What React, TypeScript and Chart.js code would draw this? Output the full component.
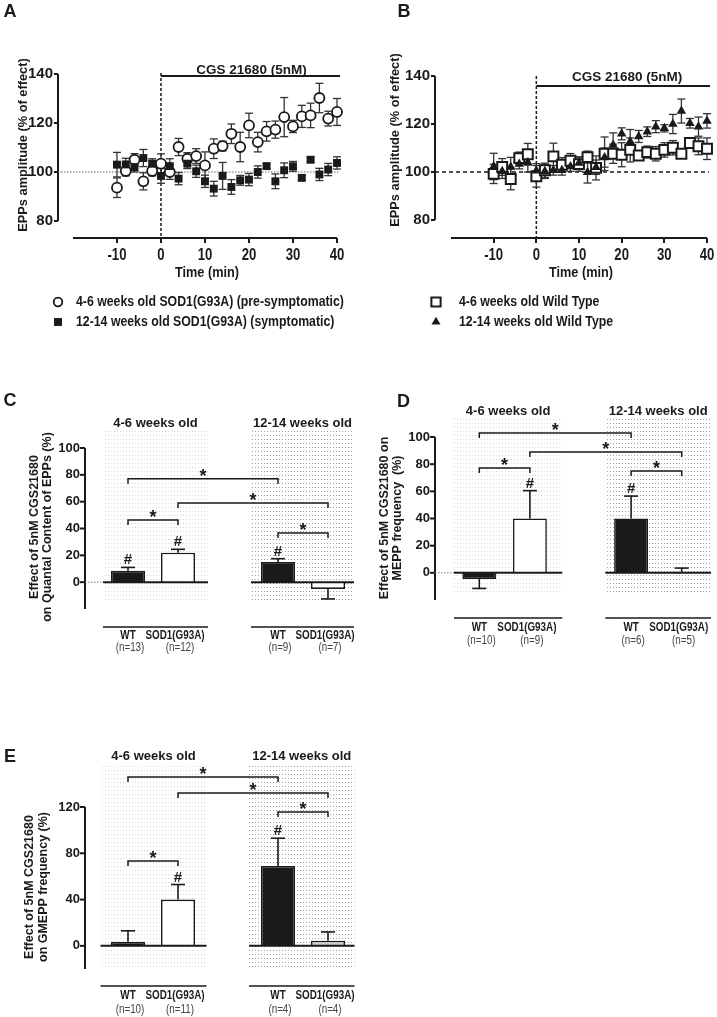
import React, { useEffect, useRef } from 'react';
import { Chart, registerables } from 'chart.js';

Chart.register(...registerables);

const SANS = "'Liberation Sans', Arial, Helvetica, sans-serif";
const INK = '#1a1a1a';
const CONDENSE = 0.82;

// ---------------- Panels A & B : time course ----------------
const timeMin = [-10, -8, -6, -4, -2, 0, 2, 4, 6, 8, 10, 12, 14, 16, 18, 20, 22, 24, 26, 28, 30, 32, 34, 36, 38, 40];
const timeTicks = [-10, 0, 10, 20, 30, 40];
const amplitudeTicks = [80, 100, 120, 140];

const sodPreSymptomatic = [93.6, 100.4, 105.0, 96.2, 100.4, 103.4, 100.0, 110.2, 105.4, 106.5, 102.7, 109.5, 110.6, 115.6, 110.2, 119.0, 112.2, 116.6, 117.3, 122.4, 118.6, 122.7, 123.1, 130.2, 121.8, 124.5];
const sodPreSymptomaticErr = [4, 2, 2.5, 3.5, 2, 4, 3, 3.5, 2.5, 3, 5.5, 4, 2, 4, 6, 5, 4, 4, 3.5, 8, 2.5, 4.5, 5, 6, 3, 5.5];
const sodSymptomatic = [103.0, 103.1, 102.0, 105.7, 103.4, 98.4, 102.4, 97.3, 103.4, 100.3, 96.2, 93.2, 98.4, 93.9, 96.6, 96.9, 100.0, 102.4, 96.2, 100.7, 102.3, 97.6, 105.0, 99.0, 101.0, 103.7];
const sodSymptomaticErr = [5, 2.5, 2, 3.5, 2, 3, 3, 2.5, 2, 2.5, 2.5, 3, 5.5, 3, 2, 2.5, 2.5, 1, 3, 3, 2, 1, 1, 2.5, 2.5, 2.5];

const wtYoung = [99.2, 102.1, 97.1, 105.8, 107.4, 98.2, 100.7, 106.5, 103.0, 104.7, 103.3, 106.2, 101.7, 107.6, 107.6, 107.2, 109.2, 106.9, 108.3, 107.6, 109.2, 110.1, 107.6, 112.1, 110.7, 109.7];
const wtYoungErr = [4, 3.5, 4.5, 2.5, 4.5, 4.5, 3, 5.5, 3, 3, 3, 2.5, 5, 7, 4, 5, 5, 2, 2.5, 3, 3, 3, 1.5, 2, 3.5, 4.5];
const wtOld = [102.3, 100.3, 102.1, 103.3, 104.0, 100.5, 100.3, 100.7, 100.7, 102.3, 103.7, 99.9, 102.0, 106.0, 111.3, 115.9, 112.7, 114.8, 116.8, 118.9, 118.2, 120.0, 125.4, 120.3, 118.9, 121.3];
const wtOldErr = [5.5, 3, 4, 2, 4, 3, 3, 2, 2, 2, 2.5, 4.5, 3, 4, 5, 2.5, 5, 2.5, 2, 2.5, 1.5, 4, 5, 2, 4, 3];

const drugLabel = 'CGS 21680 (5nM)';
const amplitudeTitle = 'EPPs amplitude (% of effect)';
const timeTitle = 'Time (min)';

// ---------------- Panels C, D, E : bar charts ----------------
const barCategories = ['WT', 'SOD1(G93A)', '', 'WT', 'SOD1(G93A)'];
const ageGroups = ['4-6 weeks old', '12-14 weeks old'];

const quantalMean = [8.5, 22, null, 15, -5];
const quantalSem = [2.5, 2.5, null, 2.5, 7.5];
const quantalN = ['(n=13)', '(n=12)', '', '(n=9)', '(n=7)'];
const quantalTicks = [0, 20, 40, 60, 80, 100];
const quantalHash = [0, 1, 3];
const quantalStars = [[0, 3, 77], [1, 4, 59], [0, 1, 46.3], [3, 4, 36.6]];

const meppMean = [-4.5, 40, null, 40, 0.5];
const meppSem = [7, 20.5, null, 16.5, 3];
const meppN = ['(n=10)', '(n=9)', '', '(n=6)', '(n=5)'];
const meppTicks = [0, 20, 40, 60, 80, 100];
const meppHash = [1, 3];
const meppStars = [[0, 3, 103], [1, 4, 89], [0, 1, 77.2], [3, 4, 75]];

const gmeppMean = [3.5, 40, null, 69, 4.5];
const gmeppSem = [9.5, 13, null, 24, 7.5];
const gmeppN = ['(n=10)', '(n=11)', '', '(n=4)', '(n=4)'];
const gmeppTicks = [0, 40, 80, 120];
const gmeppHash = [1, 3];
const gmeppStars = [[0, 3, 146], [1, 4, 132], [0, 1, 73.4], [3, 4, 115.7]];

// ---------------- helpers ----------------
function text(ctx: CanvasRenderingContext2D, s: string, x: number, y: number, font: string, opts: any = {}) {
  ctx.save();
  ctx.font = font;
  ctx.fillStyle = opts.color || INK;
  ctx.textAlign = opts.align || 'center';
  ctx.textBaseline = opts.baseline || 'middle';
  ctx.translate(x, y);
  if (opts.rot) ctx.rotate(opts.rot);
  if (opts.sx) ctx.scale(opts.sx, 1);
  ctx.fillText(s, 0, 0);
  ctx.restore();
}

function line(ctx: CanvasRenderingContext2D, pts: number[][], width = 1.5, color = INK, dash: number[] = []) {
  ctx.save();
  ctx.strokeStyle = color;
  ctx.lineWidth = width;
  ctx.setLineDash(dash);
  ctx.beginPath();
  pts.forEach((p, i) => (i === 0 ? ctx.moveTo(p[0], p[1]) : ctx.lineTo(p[0], p[1])));
  ctx.stroke();
  ctx.restore();
}

function marker(ctx: CanvasRenderingContext2D, style: string, x: number, y: number, r: number, fill: string, bw: number) {
  ctx.save();
  ctx.beginPath();
  if (style === 'circle') ctx.arc(x, y, r, 0, Math.PI * 2);
  else if (style === 'rect') {
    const s = r / Math.SQRT2;
    ctx.rect(x - s, y - s, 2 * s, 2 * s);
  } else {
    ctx.moveTo(x, y - r);
    ctx.lineTo(x + r * Math.sin((2 * Math.PI) / 3), y - r * Math.cos((2 * Math.PI) / 3));
    ctx.lineTo(x + r * Math.sin((4 * Math.PI) / 3), y - r * Math.cos((4 * Math.PI) / 3));
    ctx.closePath();
  }
  ctx.fillStyle = fill;
  ctx.fill();
  if (bw > 0) {
    ctx.lineWidth = bw;
    ctx.strokeStyle = INK;
    ctx.stroke();
  }
  ctx.restore();
}

function stipplePattern(ctx: CanvasRenderingContext2D, color: string) {
  const p = document.createElement('canvas');
  p.width = 3;
  p.height = 4;
  const g = p.getContext('2d')!;
  g.fillStyle = color;
  g.fillRect(0, 0, 1, 1);
  return ctx.createPattern(p, 'repeat')!;
}

// ---------------- time-course panels ----------------
function timeConfig(c: any) {
  const decor = {
    id: 'timeDecor',
    beforeDatasetsDraw(chart: any) {
      const ctx = chart.ctx;
      const x = chart.scales.x;
      const y = chart.scales.y;
      const area = chart.chartArea;
      // axes
      line(ctx, [[area.left, y.getPixelForValue(140)], [area.left, y.getPixelForValue(80)]], 2);
      line(ctx, [[x.getPixelForValue(-20), area.bottom], [x.getPixelForValue(40), area.bottom]], 2);
      // 100 % reference
      const y100 = y.getPixelForValue(100);
      if (c.refDashed) line(ctx, [[area.left, y100], [x.getPixelForValue(40) + 2, y100]], 1.5, INK, [4, 3]);
      else line(ctx, [[area.left, y100], [x.getPixelForValue(40) + 2, y100]], 1, '#666', [1.5, 1.5]);
      // drug application
      const x0 = x.getPixelForValue(0);
      line(ctx, [[x0, c.vTop], [x0, area.bottom]], 1.5, INK, [3, 2]);
      const xEnd = x.getPixelForValue(40) + 3;
      line(ctx, [[x0, c.drugY], [xEnd, c.drugY]], 2);
      text(ctx, drugLabel, (x0 + xEnd) / 2 + c.drugDx, c.drugLabelY, `bold 13.5px ${SANS}`);
      // error bars
      chart.data.datasets.forEach((ds: any, di: number) => {
        const meta = chart.getDatasetMeta(di);
        meta.data.forEach((pt: any, i: number) => {
          const v = ds.data[i].y;
          const e = ds.errors[i];
          const yt = y.getPixelForValue(v + e);
          const yb = y.getPixelForValue(v - e);
          line(ctx, [[pt.x, yt], [pt.x, yb]], 1.3, '#333');
          line(ctx, [[pt.x - 4, yt], [pt.x + 4, yt]], 1.3, '#333');
          line(ctx, [[pt.x - 4, yb], [pt.x + 4, yb]], 1.3, '#333');
        });
      });
    },
    afterDraw(chart: any) {
      const ctx = chart.ctx;
      const x = chart.scales.x;
      const area = chart.chartArea;
      text(ctx, c.letter, c.letterX, c.letterY, `bold 18px ${SANS}`);
      text(ctx, amplitudeTitle, c.yTitleX, c.yTitleY, `bold 12.8px ${SANS}`, { rot: -Math.PI / 2 });
      x.ticks.forEach((t: any) => {
        text(ctx, String(t.value), x.getPixelForValue(t.value), area.bottom + 18, `bold 16px ${SANS}`, { sx: CONDENSE });
      });
      const cx = (x.getPixelForValue(-20) + x.getPixelForValue(40)) / 2 + 2;
      text(ctx, timeTitle, cx, area.bottom + 35, `bold 15.5px ${SANS}`, { sx: CONDENSE });
      c.legendOrder.forEach((di: number, row: number) => {
        const ds = chart.data.datasets[di];
        const ly = c.legendY[row];
        marker(ctx, ds.pointStyle, c.legendMarkerX, ly, ds.legendRadius, ds.backgroundColor, ds.borderWidth);
        text(ctx, ds.label, c.legendTextX, ly, `bold 15px ${SANS}`, { align: 'left', sx: CONDENSE });
      });
    },
  };
  return {
    type: 'scatter',
    data: { datasets: c.datasets },
    options: {
      animation: false,
      responsive: false,
      layout: { padding: { left: 0, top: c.padTop, right: c.padRight, bottom: c.padBottom } },
      plugins: { legend: { display: false }, tooltip: { enabled: false } },
      scales: {
        x: {
          type: 'linear',
          min: c.xMin,
          max: 40,
          grid: { display: true, drawOnChartArea: false, drawTicks: true, tickLength: 5, lineWidth: 2, color: INK },
          border: { display: false },
          ticks: { display: false },
          afterBuildTicks: (s: any) => {
            s.ticks = timeTicks.map((v) => ({ value: v }));
          },
          afterFit: (s: any) => {
            s.height = c.xAxisHeight;
          },
        },
        y: {
          min: c.yMin,
          max: 140,
          grid: { display: true, drawOnChartArea: false, drawTicks: true, tickLength: 4, lineWidth: 2, color: INK },
          border: { display: false },
          ticks: { font: { family: SANS, weight: 'bold', size: 15 }, color: INK, padding: 1 },
          afterBuildTicks: (s: any) => {
            s.ticks = amplitudeTicks.map((v) => ({ value: v }));
          },
          afterFit: (s: any) => {
            s.width = c.yAxisWidth;
          },
        },
      },
    },
    plugins: [decor],
  };
}

function series(label: string, ys: number[], errs: number[], style: string, fill: string, radius: number, bw: number, legendRadius: number) {
  return {
    label,
    data: timeMin.map((t, i) => ({ x: t, y: ys[i] })),
    errors: errs,
    pointStyle: style,
    pointRadius: radius,
    pointBorderWidth: bw,
    borderWidth: bw,
    backgroundColor: fill,
    borderColor: INK,
    pointBackgroundColor: fill,
    pointBorderColor: INK,
    legendRadius,
    showLine: false,
    clip: false,
  };
}

const panelA = () =>
  timeConfig({
    letter: 'A', letterX: 10, letterY: 12,
    padTop: 74, padRight: 21, padBottom: 54, xAxisHeight: 43, yAxisWidth: 58,
    xMin: -23.4, yMin: 73.06,
    refDashed: false, vTop: 73, drugY: 76, drugLabelY: 70, drugDx: 1,
    yTitleX: 23, yTitleY: 145,
    legendOrder: [1, 0], legendY: [302, 322], legendMarkerX: 58, legendTextX: 76,
    datasets: [
      series('12-14 weeks old SOD1(G93A) (symptomatic)', sodSymptomatic, sodSymptomaticErr, 'rect', INK, 5.6, 0, 5.6),
      series('4-6 weeks old SOD1(G93A) (pre-symptomatic)', sodPreSymptomatic, sodPreSymptomaticErr, 'circle', '#ffffff', 5, 1.8, 4.3),
    ],
  });

const panelB = () =>
  timeConfig({
    letter: 'B', letterX: 46, letterY: 12,
    padTop: 76, padRight: 10, padBottom: 54, xAxisHeight: 43, yAxisWidth: 77,
    xMin: -23.75, yMin: 72.5,
    refDashed: true, vTop: 76, drugY: 86, drugLabelY: 77, drugDx: 4,
    yTitleX: 37, yTitleY: 140,
    legendOrder: [1, 0], legendY: [302, 322], legendMarkerX: 78, legendTextX: 101,
    datasets: [
      series('12-14 weeks old Wild Type', wtOld, wtOldErr, 'triangle', INK, 5.5, 0, 5.2),
      series('4-6 weeks old Wild Type', wtYoung, wtYoungErr, 'rect', '#ffffff', 7, 2, 6.5),
    ],
  });

// ---------------- bar panels ----------------
function barConfig(c: any) {
  const decor = {
    id: 'barDecor',
    beforeDatasetsDraw(chart: any) {
      const ctx = chart.ctx;
      const x = chart.scales.x;
      const c0 = x.getPixelForTick(0);
      const cw = x.getPixelForTick(1) - c0;
      const colors = ['#d6d6d6', '#a4a4a4'];
      c.groupSpans.forEach((s: number[], gi: number) => {
        const l = c0 + s[0] * cw;
        const r = c0 + s[1] * cw;
        ctx.save();
        ctx.fillStyle = stipplePattern(ctx, colors[gi]);
        ctx.fillRect(l, c.stipple[0], r - l, c.stipple[1] - c.stipple[0]);
        ctx.restore();
      });
    },
    afterDatasetsDraw(chart: any) {
      const ctx = chart.ctx;
      const x = chart.scales.x;
      const y = chart.scales.y;
      const c0 = x.getPixelForTick(0);
      const cw = x.getPixelForTick(1) - c0;
      const y0 = y.getPixelForValue(0);
      const spans = c.groupSpans.map((s: number[]) => [c0 + s[0] * cw, c0 + s[1] * cw]);
      // y axis
      const ax = c.axisX;
      line(ctx, [[ax, y.getPixelForValue(c.yMax)], [ax, y.getPixelForValue(c.yMin)]], 2);
      c.yTicks.forEach((v: number) => {
        const py = y.getPixelForValue(v);
        line(ctx, [[ax - 5, py], [ax, py]], 2);
      });
      if (c.dottedZero) line(ctx, [[ax, y0], [spans[0][0], y0]], 1, '#777', [1.5, 1.5]);
      spans.forEach((s: number[]) => line(ctx, [[s[0], y0], [s[1], y0]], 2));
      // error bars
      c.means.forEach((m: number | null, i: number) => {
        if (m === null) return;
        const cx = x.getPixelForTick(i);
        const dir = m < 0 ? -1 : 1;
        const ys = y.getPixelForValue(m);
        const ye = y.getPixelForValue(m + dir * c.sems[i]);
        line(ctx, [[cx, ys], [cx, ye]], 1.6);
        line(ctx, [[cx - 7, ye], [cx + 7, ye]], 1.6);
      });
      // # marks
      c.hashes.forEach((i: number) => {
        const cx = x.getPixelForTick(i);
        const ye = y.getPixelForValue(c.means[i] + c.sems[i]);
        text(ctx, '#', cx, ye - 3, `bold 15px ${SANS}`, { baseline: 'alphabetic' });
      });
      // significance brackets
      c.stars.forEach((s: number[]) => {
        const xa = x.getPixelForTick(s[0]);
        const xb = x.getPixelForTick(s[1]);
        const ly = y.getPixelForValue(s[2]);
        line(ctx, [[xa, ly + 5], [xa, ly], [xb, ly], [xb, ly + 5]], 1.5);
        text(ctx, '*', (xa + xb) / 2, ly + 3, `bold 18px ${SANS}`, { baseline: 'alphabetic' });
      });
      // group headers, separators, category labels and n
      spans.forEach((s: number[], gi: number) => {
        text(ctx, ageGroups[gi], (s[0] + s[1]) / 2, c.headerY, `bold 13px ${SANS}`);
        line(ctx, [[s[0], c.sepY], [s[1], c.sepY]], 1.5);
      });
      barCategories.forEach((lab: string, i: number) => {
        if (!lab) return;
        const dx = i % 3 === 0 ? 0 : -3;
        text(ctx, lab, x.getPixelForTick(i) + dx, c.labelY, `bold 12px ${SANS}`, { sx: CONDENSE });
      });
      c.ns.forEach((n: string, i: number) => {
        if (!n) return;
        text(ctx, n, x.getPixelForTick(i) + 2, c.nY, `12px ${SANS}`, { color: '#444', sx: CONDENSE });
      });
    },
    afterDraw(chart: any) {
      const ctx = chart.ctx;
      text(ctx, c.letter, c.letterPos[0], c.letterPos[1], `bold 18px ${SANS}`);
      c.title.forEach((t: string, i: number) => {
        text(ctx, t, c.titleX[i], c.titleY, `bold 12.5px ${SANS}`, { rot: -Math.PI / 2 });
      });
    },
  };
  return {
    type: 'bar',
    data: {
      labels: barCategories,
      datasets: [
        {
          label: c.label,
          data: c.means,
          backgroundColor: c.fills,
          borderColor: INK,
          borderWidth: 1.6,
          barPercentage: c.barPct,
          categoryPercentage: 1,
        },
      ],
    },
    options: {
      animation: false,
      responsive: false,
      layout: { padding: { left: 0, top: c.padTop, right: c.padRight, bottom: 0 } },
      plugins: { legend: { display: false }, tooltip: { enabled: false } },
      scales: {
        x: {
          grid: { display: false, drawTicks: false },
          border: { display: false },
          ticks: { display: false },
          afterFit: (s: any) => {
            s.height = c.xAxisHeight;
          },
        },
        y: {
          min: c.yMin,
          max: c.yMax,
          grid: { display: false, drawTicks: false },
          border: { display: false },
          ticks: { font: { family: SANS, weight: 'bold', size: 13 }, color: INK, padding: c.tickPad },
          afterBuildTicks: (s: any) => {
            s.ticks = c.yTicks.map((v: number) => ({ value: v }));
          },
          afterFit: (s: any) => {
            s.width = c.yAxisWidth;
          },
        },
      },
    },
    plugins: [decor],
  };
}

const panelC = () =>
  barConfig({
    label: 'Quantal content effect (%)',
    letter: 'C', letterPos: [10, 66],
    means: quantalMean, sems: quantalSem, ns: quantalN, yTicks: quantalTicks,
    hashes: quantalHash, stars: quantalStars,
    fills: [INK, '#ffffff', '#ffffff', INK, '#ffffff'],
    yMin: -20, yMax: 100,
    padTop: 113, padRight: 5, yAxisWidth: 103, xAxisHeight: 61,
    axisX: 85, tickPad: 23, labelY: 301, nY: 313, sepY: 292, headerY: 88,
    stipple: [95, 268], groupSpans: [[-0.5, 1.6], [2.46, 4.52]], dottedZero: true, barPct: 0.68,
    title: ['Effect of 5nM CGS21680', 'on Quantal Content of EPPs (%)'], titleX: [35, 48], titleY: 192,
  });

const panelD = () =>
  barConfig({
    label: 'MEPP frequency effect (%)',
    letter: 'D', letterPos: [45.5, 67],
    means: meppMean, sems: meppSem, ns: meppN, yTicks: meppTicks,
    hashes: meppHash, stars: meppStars,
    fills: [INK, '#ffffff', '#ffffff', INK, '#ffffff'],
    yMin: -20, yMax: 100,
    padTop: 102, padRight: 10, yAxisWidth: 96, xAxisHeight: 70,
    axisX: 77, tickPad: 24, labelY: 293, nY: 306, sepY: 283, headerY: 76,
    stipple: [82, 259], groupSpans: [[-0.5, 1.64], [2.49, 4.58]], dottedZero: true, barPct: 0.67,
    title: ['Effect of 5nM CGS21680 on', 'MEPP frequency  (%)'], titleX: [27, 40], titleY: 183,
  });

const panelE = () =>
  barConfig({
    label: 'GMEPP frequency effect (%)',
    letter: 'E', letterPos: [10, 87],
    means: gmeppMean, sems: gmeppSem, ns: gmeppN, yTicks: gmeppTicks,
    hashes: gmeppHash, stars: gmeppStars,
    fills: [INK, '#ffffff', '#ffffff', INK, '#cfcfcf'],
    yMin: -20, yMax: 120,
    padTop: 137, padRight: 5, yAxisWidth: 103, xAxisHeight: 48,
    axisX: 85, tickPad: 23, labelY: 326, nY: 340, sepY: 316, headerY: 86,
    stipple: [95, 300], groupSpans: [[-0.55, 1.57], [2.42, 4.53]], dottedZero: false, barPct: 0.68,
    title: ['Effect of 5nM CGS21680', 'on GMEPP frequency (%)'], titleX: [30, 44], titleY: 217,
  });

function ChartBox({ left, top, width, height, make }: { left: number; top: number; width: number; height: number; make: () => any }) {
  const ref = useRef<HTMLCanvasElement>(null);
  useEffect(() => {
    const chart = new Chart(ref.current as HTMLCanvasElement, make());
    return () => chart.destroy();
  }, []);
  return (
    <canvas
      ref={ref}
      width={width}
      height={height}
      style={{ position: 'absolute', left, top, width, height }}
    />
  );
}

export default function App() {
  return (
    <div style={{ position: 'absolute', left: 0, top: 0, width: 717, height: 1017, background: '#ffffff', overflow: 'hidden' }}>
      <ChartBox left={0} top={0} width={358} height={335} make={panelA} />
      <ChartBox left={358} top={0} width={359} height={335} make={panelB} />
      <ChartBox left={0} top={335} width={358} height={335} make={panelC} />
      <ChartBox left={358} top={335} width={359} height={335} make={panelD} />
      <ChartBox left={0} top={670} width={358} height={347} make={panelE} />
    </div>
  );
}
